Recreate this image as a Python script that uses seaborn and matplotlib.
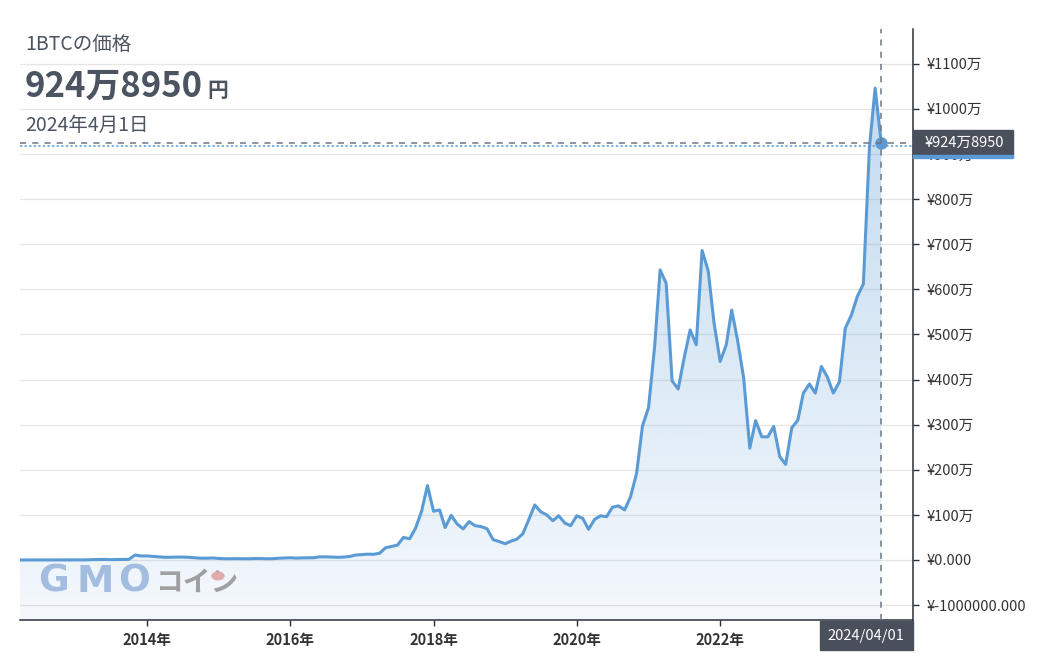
"""1BTC price chart (GMO coin style) recreated with seaborn."""
import matplotlib
matplotlib.use('Agg')
import matplotlib.pyplot as plt
import matplotlib.dates as mdates
from matplotlib.colors import to_rgb
from matplotlib.patches import Rectangle, Circle
from matplotlib.ticker import FixedLocator, FuncFormatter
import numpy as np
import pandas as pd
import seaborn as sns

# monthly prices (万円), month start
p2012 = [0.05, 0.05, 0.05, 0.05, 0.05, 0.05, 0.07, 0.09, 0.1, 0.1, 0.1, 0.11]
p2013 = [0.13, 0.2, 0.35, 0.9, 1.0, 1.2, 0.9, 1.0, 1.3, 1.4, 11.0, 9.0]
p2014 = [9, 8, 7, 6, 6, 6.5, 6.5, 6, 5, 4, 4, 4.5]
p2015 = [3.5, 2.8, 3, 3, 2.8, 2.8, 3.2, 3.3, 2.8, 2.9, 3.8, 4.3]
p2016 = [5, 4.2, 4.7, 4.8, 5, 7, 7, 6.5, 6, 6.5, 8, 11]
p2017 = [12, 13, 12.6, 15, 27, 30, 33, 50, 47, 70, 108, 165]
p2018 = [108, 111, 72, 99, 80, 69, 85, 76, 74, 69, 45, 41]
p2019 = [36, 42, 46, 58, 89, 122, 107, 100, 87, 98, 82, 76]
p2020 = [98, 92, 68, 90, 98, 96, 117, 120, 111, 140, 192, 297]
p2021 = [338, 473, 643, 613, 397, 379, 447, 510, 477, 686, 641, 525]
p2022 = [440, 477, 554, 484, 403, 248, 309, 273, 273, 296, 229, 212]
p2023 = [293, 310, 370, 390, 370, 429, 406, 370, 395, 514, 543, 584]
p2024 = [612, 915, 1046, 924.895]

last_date = '2024-04-01'
last_label = '¥924万8950'
series_last = 918  # blue dotted reference line (万円)
year_ticks = [2014, 2016, 2018, 2020, 2022]

prices = p2012 + p2013 + p2014 + p2015 + p2016 + p2017 + p2018 + p2019 + p2020 + p2021 + p2022 + p2023 + p2024
dates = pd.date_range('2012-01-01', last_date, freq='MS')
df = pd.DataFrame({'date': dates, 'price': np.array(prices) * 1e4})

LINE = '#5b9bd5'
DARK = '#2b2f3a'
TAG = '#4a505b'
TXT = '#4b5460'
W, H = 1040, 660

sns.set_theme(style='white')
plt.rcParams['font.family'] = ['Noto Sans CJK JP', 'DejaVu Sans']

fig = plt.figure(figsize=(W / 100, H / 100), dpi=100)
ax = fig.add_axes([20 / W, 1 - 620 / H, (913 - 20) / W, (620 - 29) / H])

ymin, ymax = -1.33e6, 11.77e6
xmin, xmax = pd.Timestamp('2012-03-25'), pd.Timestamp('2024-09-10')

# gradient area under the line
poly = ax.fill_between(df['date'], df['price'], ymin, color='none', lw=0)
xnum = mdates.date2num(df['date'])
alpha = np.linspace(0.07, 0.40, 256)
rgba = np.zeros((256, 1, 4))
rgba[..., :3] = to_rgb(LINE)
rgba[:, 0, 3] = alpha
img = ax.imshow(rgba, extent=[xnum[0], xnum[-1], ymin, ymax], origin='lower',
                aspect='auto', zorder=1, interpolation='bilinear')
img.set_clip_path(poly.get_paths()[0], ax.transData)

sns.lineplot(data=df, x='date', y='price', color=LINE, lw=2.2, ax=ax, zorder=3)

ld = pd.Timestamp(last_date)
lv = df['price'].iloc[-1]
ax.plot([ld], [lv], 'o', color=LINE, ms=8, zorder=4)
ax.axvline(ld, color='#6b7785', lw=1.1, ls=(0, (4, 4)), zorder=5)
ax.axhline(lv, color='#6b7785', lw=1.1, ls=(0, (4, 4)), zorder=5)
ax.axhline(series_last * 1e4, color=LINE, lw=1.1, ls=(0, (1.5, 1.5)), zorder=5)

ax.set_xlim(xmin, xmax)
ax.set_ylim(ymin, ymax)
ax.set_xlabel('')
ax.set_ylabel('')


def yfmt(v, pos):
    if v > 0:
        return f'¥{v / 1e4:.0f}万'
    return f'¥{v:.3f}'


ax.yaxis.tick_right()
ax.yaxis.set_major_locator(FixedLocator(np.arange(-1e6, 11.5e6, 1e6)))
ax.yaxis.set_major_formatter(FuncFormatter(yfmt))
ax.xaxis.set_major_locator(FixedLocator(mdates.date2num([pd.Timestamp(f'{y}-01-01') for y in year_ticks])))
ax.xaxis.set_major_formatter(FuncFormatter(lambda v, p: f'{mdates.num2date(v).year}年'))
ax.tick_params(axis='y', direction='out', length=4, width=1, color=DARK, pad=6,
               labelsize=10.5, labelcolor='#333333', right=True, left=False)
ax.tick_params(axis='x', direction='out', length=4, width=1, color=DARK, pad=5,
               labelsize=10.5, labelcolor='#333333', bottom=True)
for lab in ax.get_xticklabels():
    lab.set_fontweight('bold')

ax.grid(axis='y', color='#e6e6e6', lw=0.9)
ax.grid(axis='x', visible=False)
for side in ['left', 'top']:
    ax.spines[side].set_visible(False)
for side in ['right', 'bottom']:
    ax.spines[side].set_color(DARK)
    ax.spines[side].set_linewidth(1.1)


def fx(px):
    return px / W


def fy(py):
    return 1 - py / H


# header texts
fig.text(fx(25), fy(44), '1BTCの価格', fontsize=14, color=TXT, va='center')
fig.text(fx(25), fy(97), '924万8950', fontsize=25, color=TXT, fontweight='bold', va='baseline')
fig.text(fx(207), fy(97), '円', fontsize=15, color=TXT, fontweight='bold', va='baseline')
fig.text(fx(25), fy(125), '2024年4月1日', fontsize=14, color=TXT, va='center')

# price tag on the right axis
fig.patches.append(Rectangle((fx(913), fy(155)), fx(100), 25 / H, transform=fig.transFigure,
                             color=TAG, zorder=10))
fig.patches.append(Rectangle((fx(913), fy(158)), fx(100), 3 / H, transform=fig.transFigure,
                             color=LINE, zorder=10))
fig.text(fx(925), fy(143), last_label, fontsize=10.5, color='white', va='center', zorder=11)

# date tag under the x axis
fig.patches.append(Rectangle((fx(820), fy(650)), fx(93), 29 / H, transform=fig.transFigure,
                             color=TAG, zorder=10))
fig.text(fx(866), fy(636), '2024/04/01', fontsize=10.5, color='white', ha='center', va='center', zorder=11)

# GMOコイン watermark
for ch, cx in zip('GMO', [54, 95, 134]):
    fig.text(fx(cx), fy(582), ch, fontsize=27, color='#a3bde0', fontweight='heavy',
             family='DejaVu Sans', ha='center', va='center', zorder=6)
fig.text(fx(155), fy(583), 'コイン', fontsize=20, color='#a0a0a3', fontweight='bold',
         ha='left', va='center', zorder=6)
fig.patches.append(Circle((fx(218), fy(576)), 6 / W, transform=fig.transFigure,
                          color='#e2aaab', zorder=7))

fig.savefig('out.png', dpi=100)
